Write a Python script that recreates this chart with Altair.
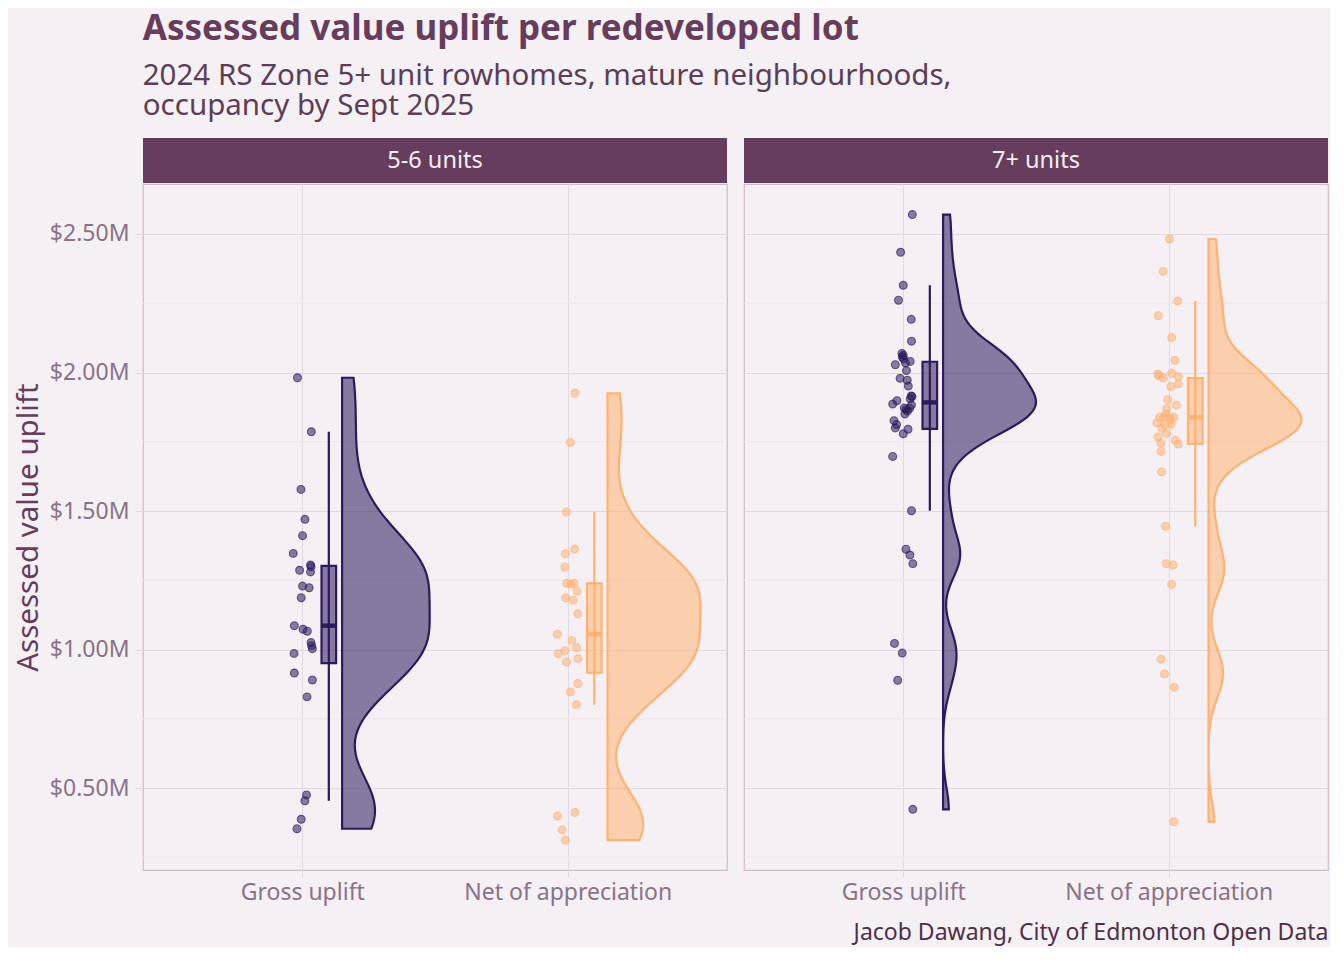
import altair as alt
import pandas as pd
import numpy as np

panels = ["5-6 units", "7+ units"]
measures = ["Gross uplift", "Net of appreciation"]

# values in $M; jitter in category units
gross_56 = [1.981, 1.786, 1.578, 1.470, 1.411, 1.347, 1.305, 1.299, 1.286, 1.280,
            1.229, 1.223, 1.187, 1.086, 1.073, 1.066, 1.025, 1.014, 1.003, 0.986,
            0.915, 0.890, 0.829, 0.475, 0.454, 0.387, 0.353]
gross_56_jitter = [-0.018, 0.034, -0.005, 0.010, 0.001, -0.034, 0.031, 0.033, -0.010, 0.031,
                   0.001, 0.026, -0.004, -0.030, 0.003, 0.019, 0.033, 0.035, 0.038, -0.031,
                   -0.030, 0.038, 0.018, 0.016, 0.010, -0.004, -0.020]

net_56 = [1.925, 1.747, 1.496, 1.363, 1.346, 1.298, 1.239, 1.236, 1.239, 1.210,
          1.187, 1.178, 1.129, 1.055, 1.033, 1.007, 0.996, 0.985, 0.967, 0.955,
          0.877, 0.847, 0.801, 0.412, 0.399, 0.349, 0.312]
net_56_jitter = [0.027, 0.010, -0.005, 0.026, -0.009, -0.011, -0.004, 0.011, 0.024, 0.035,
                 -0.008, 0.021, 0.038, -0.039, 0.016, 0.033, -0.011, -0.036, 0.039, -0.005,
                 0.038, 0.010, 0.033, 0.027, -0.039, -0.021, -0.009]

gross_7 = [2.570, 2.434, 2.315, 2.261, 2.192, 2.113, 2.069, 2.062, 2.057, 2.049,
           2.040, 2.035, 2.028, 2.007, 1.979, 1.972, 1.951, 1.915, 1.913, 1.905,
           1.898, 1.886, 1.883, 1.872, 1.871, 1.866, 1.861, 1.850, 1.826, 1.812,
           1.800, 1.795, 1.779, 1.697, 1.501, 1.362, 1.341, 1.310, 1.022, 0.987,
           0.889, 0.423]
gross_7_jitter = [0.034, -0.010, 0.000, -0.018, 0.030, 0.031, -0.005, 0.000, -0.004, 0.001,
                  0.026, 0.008, -0.030, 0.012, -0.012, 0.015, 0.019, 0.030, 0.033, 0.026,
                  -0.024, -0.040, 0.031, 0.004, 0.024, 0.010, 0.016, 0.006, -0.035, -0.025,
                  -0.030, 0.018, 0.000, -0.040, 0.031, 0.010, 0.025, 0.036, -0.033, -0.004,
                  -0.021, 0.036]

net_7 = [2.482, 2.365, 2.258, 2.205, 2.126, 2.044, 1.997, 1.995, 1.988, 1.985,
         1.980, 1.958, 1.949, 1.902, 1.882, 1.869, 1.850, 1.838, 1.838, 1.838,
         1.838, 1.830, 1.818, 1.813, 1.813, 1.799, 1.780, 1.767, 1.756, 1.745,
         1.742, 1.715, 1.641, 1.445, 1.310, 1.305, 1.235, 0.965, 0.912, 0.864,
         0.378]
net_7_jitter = [0.003, -0.021, 0.034, -0.039, 0.011, 0.024, 0.011, -0.041, -0.038, 0.036,
                -0.021, 0.036, 0.008, -0.004, 0.029, -0.008, -0.011, -0.034, -0.019, 0.000,
                0.019, 0.008, -0.045, -0.015, 0.008, -0.026, -0.008, -0.040, 0.025, -0.030,
                0.036, -0.029, -0.027, -0.012, -0.009, 0.016, 0.011, -0.029, -0.016, 0.020,
                0.019]

y_ticks = [0.5, 1.0, 1.5, 2.0, 2.5]
y_minor = [0.25, 0.75, 1.25, 1.75, 2.25]

series = {
    ("5-6 units", "Gross uplift"): (gross_56, gross_56_jitter),
    ("5-6 units", "Net of appreciation"): (net_56, net_56_jitter),
    ("7+ units", "Gross uplift"): (gross_7, gross_7_jitter),
    ("7+ units", "Net of appreciation"): (net_7, net_7_jitter),
}

# ---- styling ----
BG = "#F5F0F4"
STRIP = "#663D5C"
STRIP_TXT = "#F5EEF3"
TITLE = "#663D5C"
SUB = "#5B3F56"
GRID = "#E2D8DF"
MINOR = "#EDE6EB"
BORDER = "#D6BACE"
LAB = "#8A7287"
CAP = "#4E2F48"
COLORS = {"Gross uplift": "#2B1A5C", "Net of appreciation": "#FFB272"}
VIOLIN_W = {("5-6 units", "Gross uplift"): 0.33}
W, H = 584, 686
FONT = "Noto Sans"

rows = []
for (p, m), (vals, jit) in series.items():
    pos = measures.index(m) + 1
    for v, j in zip(vals, jit):
        rows.append({"panel": p, "measure": m, "pos": pos, "value": v, "jitter": j})
df = pd.DataFrame(rows)

yscale = alt.Scale(domain=[0.204, 2.6805], nice=False, zero=False)
xscale = alt.Scale(domain=[0.4, 2.6], nice=False, zero=False)
colscale = alt.Scale(domain=measures, range=[COLORS[m] for m in measures])


def nrd0(vals):
    a = np.asarray(vals, dtype=float)
    q75, q25 = np.percentile(a, [75, 25])
    s = min(a.std(ddof=1), (q75 - q25) / 1.34)
    return 0.9 * s * len(a) ** -0.2


XLAB = "datum.value == 1 ? 'Gross uplift' : 'Net of appreciation'"


def panel_chart(pi):
    p = panels[pi]
    first = pi == 0
    if first:
        yaxis = alt.Axis(values=y_ticks, labelExpr="'$' + format(datum.value, '.2f') + 'M'",
                         title="Assessed value uplift", grid=True, gridColor=GRID, gridWidth=1,
                         tickColor=GRID, tickSize=8, labelFontSize=23, labelColor=LAB,
                         labelPadding=6, titleFontSize=29.5, titleColor=TITLE,
                         titleFontWeight="normal", titlePadding=6, domain=False)
        xaxis = alt.Axis(values=[1, 2], labelExpr=XLAB, labelLimit=400,
                         title="", grid=True, gridColor=GRID, tickColor=GRID, tickSize=7,
                         labelFontSize=23, labelColor=LAB, labelPadding=4, domain=False)
    else:
        yaxis = alt.Axis(values=y_ticks, labels=False, ticks=False, title="", grid=True,
                         gridColor=GRID, gridWidth=1, domain=False)
        xaxis = alt.Axis(values=[1, 2], labelExpr=XLAB, labelLimit=400,
                         title="Jacob Dawang, City of Edmonton Open Data", titleAnchor="end",
                         titleFontSize=23, titleColor=CAP, titleFontWeight="normal", titlePadding=17,
                         grid=True, gridColor=GRID, tickColor=GRID, tickSize=7,
                         labelFontSize=23, labelColor=LAB, labelPadding=4, domain=False)

    def X(f):
        return alt.X(f"{f}:Q", scale=xscale, axis=xaxis)

    def Y(f):
        return alt.Y(f"{f}:Q", scale=yscale, axis=yaxis)

    d = df[df.panel == p]
    base = alt.Chart(d)
    layers = []

    # minor grid
    layers.append(alt.Chart(pd.DataFrame({"v": y_minor})).mark_rule(color=MINOR, strokeWidth=1)
                  .encode(y=Y("v")))

    # violins
    for m in measures:
        vals = series[(p, m)][0]
        pos = measures.index(m) + 1
        bw = nrd0(vals)
        wid = VIOLIN_W.get((p, m), 0.35)
        c = COLORS[m]
        v = (alt.Chart(pd.DataFrame({"value": vals}))
             .transform_density("value", as_=["value", "density"], bandwidth=bw,
                                extent=[min(vals), max(vals)], steps=200)
             .transform_joinaggregate(maxd="max(density)")
             .transform_calculate(xl=f"{pos} + 0.15",
                                  xr=f"{pos} + 0.15 + {wid} * datum.density / datum.maxd")
             .mark_area(orient="horizontal", fill=c, fillOpacity=0.55, stroke=c, strokeWidth=2.2)
             .encode(y=Y("value"), x=X("xr"), x2="xl"))
        layers.append(v)

    # boxplots
    bb = (base.transform_joinaggregate(q1="q1(value)", med="median(value)", q3="q3(value)",
                                       groupby=["pos", "measure"])
          .transform_calculate(lo="datum.q1 - 1.5 * (datum.q3 - datum.q1)",
                               hi="datum.q3 + 1.5 * (datum.q3 - datum.q1)")
          .transform_filter("datum.value >= datum.lo && datum.value <= datum.hi")
          .transform_aggregate(wmin="min(value)", wmax="max(value)", q1="max(q1)",
                               med="max(med)", q3="max(q3)", groupby=["pos", "measure"])
          .transform_calculate(bx="datum.pos + 0.1", bl="datum.pos + 0.0725",
                               br="datum.pos + 0.1275"))
    col = alt.Color("measure:N", scale=colscale, legend=None)
    layers.append(bb.mark_rule(strokeWidth=2.2).encode(x=X("bx"), y=Y("wmin"), y2="wmax", color=col))
    layers.append(bb.mark_rect(strokeWidth=2.2, fillOpacity=0.55)
                  .encode(x=X("bl"), x2="br", y=Y("q1"), y2="q3", fill=col, stroke=col))
    layers.append(bb.mark_rule(strokeWidth=4.4).encode(x=X("bl"), x2="br", y=Y("med"), color=col))

    # jittered points
    layers.append(base.transform_calculate(xj="datum.pos + datum.jitter")
                  .mark_circle(size=62, strokeWidth=1.1, fillOpacity=0.55, strokeOpacity=0.65)
                  .encode(x=X("xj"), y=Y("value"), fill=col, stroke=col))

    # strip
    strip_df = pd.DataFrame({"label": [p]})
    layers.append(alt.Chart(strip_df).mark_rect(color=STRIP)
                  .encode(x=alt.value(0), x2=alt.value(W), y=alt.value(-46), y2=alt.value(-1)))
    layers.append(alt.Chart(strip_df).mark_text(color=STRIP_TXT, fontSize=23.5, font=FONT,
                                                baseline="middle", align="center")
                  .encode(text="label:N", x=alt.value(W / 2), y=alt.value(-23)))

    return alt.layer(*layers).properties(width=W, height=H)


chart = (alt.hconcat(panel_chart(0), panel_chart(1), spacing=13)
         .properties(
             title=alt.TitleParams(
                 text="Assessed value uplift per redeveloped lot",
                 subtitle=["2024 RS Zone 5+ unit rowhomes, mature neighbourhoods,",
                           "occupancy by Sept 2025"],
                 anchor="start", fontSize=35, fontWeight="bold", color=TITLE, font=FONT,
                 subtitleFontSize=29.5, subtitleColor=SUB, subtitleFont=FONT,
                 subtitlePadding=15, subtitleLineHeight=30, offset=17, dx=130),
             padding={"left": 4, "top": 3, "right": 0, "bottom": 2},
             background=BG)
         .configure(font=FONT)
         .configure_view(stroke=BORDER, strokeWidth=1.2)
         .configure_axis(labelFont=FONT, titleFont=FONT))

chart.save("out.html", embed_options={"renderer": "svg", "actions": False})
